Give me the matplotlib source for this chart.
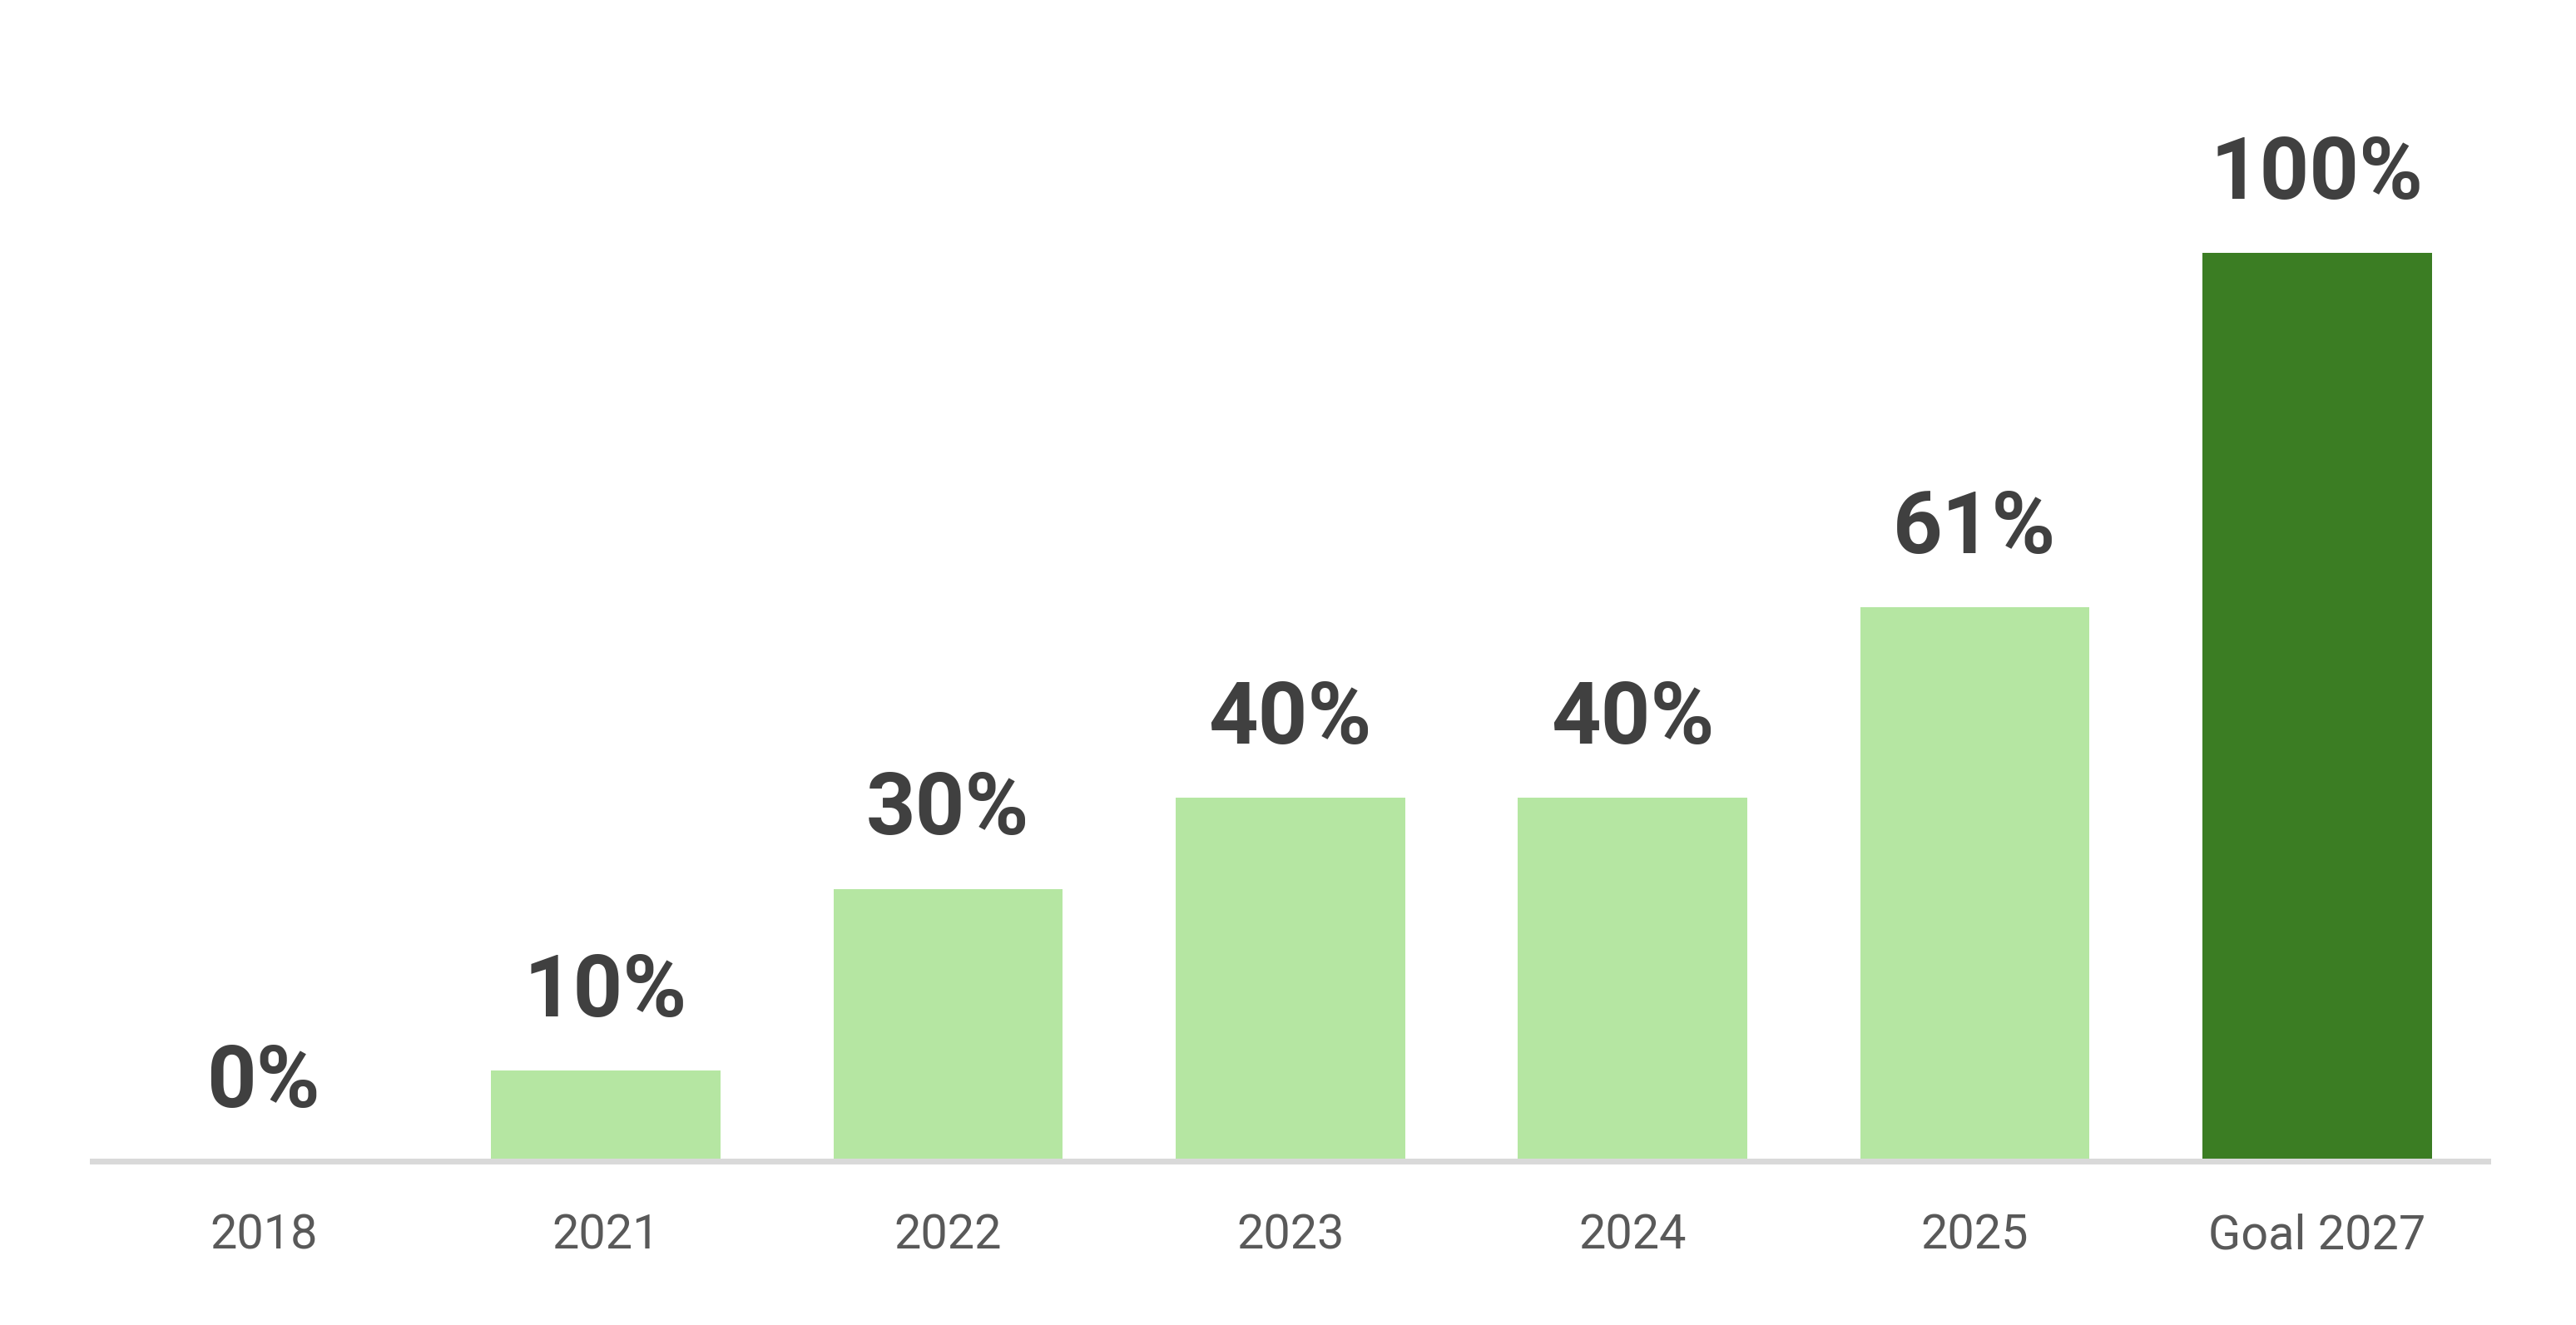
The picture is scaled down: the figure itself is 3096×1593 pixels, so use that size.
import matplotlib.pyplot as plt
import numpy as np

# data
years = ["2018", "2021", "2022", "2023", "2024", "2025", "Goal 2027"]
share = [0, 10, 30, 40, 40, 61, 100]
bar_colors = ["#B5E6A2"] * 6 + ["#3B7D23"]

plt.rcParams['font.family'] = ['Roboto', 'DejaVu Sans']

fig = plt.figure(figsize=(30.96, 15.93), dpi=100)
ax = fig.add_axes([0.0359, 0.1234, 0.930, 0.814])

x = np.arange(len(years))
vals = np.array(share) / 100
ax.bar(x, vals, width=0.67, color=bar_colors, zorder=1)

for xi, v, s in zip(x, vals, share):
    ax.annotate(f"{s}%", (xi, v), xytext=(0, 47), textcoords='offset points',
                ha='center', va='baseline', fontsize=75, fontweight='bold',
                color='#404040')

ax.set_xlim(-0.5, len(years) - 0.5)
ax.set_ylim(0, 1.187)
ax.set_xticks(x)
ax.set_xticklabels(years, fontsize=41.5, color='#595959')
ax.tick_params(axis='x', length=0, pad=45)
ax.set_yticks([])

for side in ['left', 'right', 'top']:
    ax.spines[side].set_visible(False)
ax.spines['bottom'].set_color('#D9D9D9')
ax.spines['bottom'].set_linewidth(5.04)

fig.savefig("out.png", dpi=100)
